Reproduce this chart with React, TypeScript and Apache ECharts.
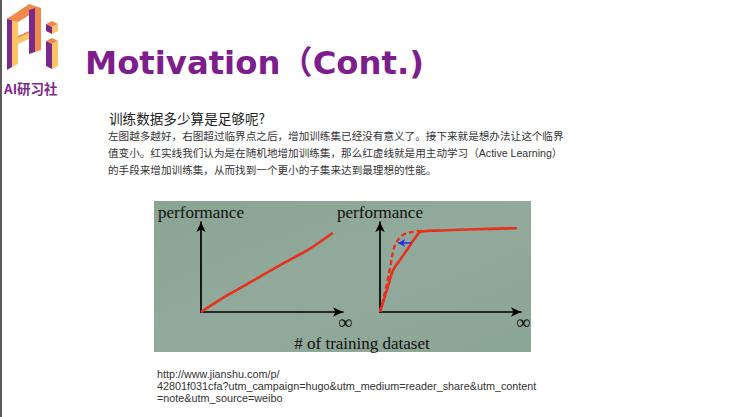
import React, { useEffect, useRef } from "react";
import * as echarts from "echarts";

// Left panel: performance grows steadily with dataset size
const leftX = [0, 1.92, 3.8, 5.92, 7.56, 9.27];
const leftY = [0, 1.92, 3.59, 5.52, 6.92, 8.78];

// Right panel: random sampling (solid) vs active learning (dashed)
const solidX = [0, 0.24, 0.59, 0.94, 1.42, 2.0, 2.48, 2.96, 4.37, 6.74, 9.7];
const solidY = [0, 1.17, 3.0, 4.68, 5.79, 7.09, 8.2, 8.94, 9.06, 9.2, 9.31];
const dashedX = [0, 0.16, 0.47, 0.71, 1.06, 1.64, 2.3, 3.0];
const dashedY = [0, 0.98, 3.0, 4.87, 7.42, 8.57, 8.9, 9.02];
const arrowX = [2.23, 1.29];
const arrowY = [7.68, 7.68];

const yAxisName = "performance";
const xAxisName = "∞";
const xTitle = "# of training dataset";

const slideTitle = "Motivation（Cont.)";
const logoText = "AI研习社";
const question = "训练数据多少算是足够呢?";
const bodyLines = [
  "左图越多越好，右图超过临界点之后，增加训练集已经没有意义了。接下来就是想办法让这个临界",
  "值变小。红实线我们认为是在随机地增加训练集，那么红虚线就是用主动学习（Active Learning）",
  "的手段来增加训练集，从而找到一个更小的子集来达到最理想的性能。",
];
const urlLines = [
  "http://www.jianshu.com/p/",
  "42801f031cfa?utm_campaign=hugo&utm_medium=reader_share&utm_content",
  "=note&utm_source=weibo",
];

const zip = (xs: number[], ys: number[]) => xs.map((x, i) => [x, ys[i]]);

const SERIF = "'Liberation Serif', 'DejaVu Serif', serif";
const CJK = "'Liberation Sans', Arial, 'Noto Sans CJK SC', sans-serif";
const RED = "#e5321c";

function axisPair(gridIndex: number) {
  const line = {
    show: true,
    symbol: ["none", "arrow"],
    symbolSize: [7, 10],
    lineStyle: { color: "#000", width: 1.7 },
  };
  return {
    x: {
      gridIndex,
      type: "value",
      min: 0,
      max: 10,
      axisLine: line,
      axisTick: { show: false },
      axisLabel: { show: false },
      splitLine: { show: false },
      name: xAxisName,
      nameLocation: "end",
      nameGap: 2,
      nameTextStyle: {
        fontFamily: SERIF,
        fontSize: 20,
        color: "#111",
        align: "center",
        verticalAlign: "top",
      },
    },
    y: {
      gridIndex,
      type: "value",
      min: 0,
      max: 10,
      axisLine: line,
      axisTick: { show: false },
      axisLabel: { show: false },
      splitLine: { show: false },
      name: yAxisName,
      nameLocation: "end",
      nameGap: 1,
      nameTextStyle: { fontFamily: SERIF, fontSize: 17, color: "#111" },
    },
  };
}

function logo() {
  const P = "#7b2a8c";
  const O = "#f2894c";
  const Y = "#fcc566";
  const poly = (points: number[][], fill: string) => ({
    type: "polygon",
    shape: { points },
    style: { fill },
  });
  return [
    // left column
    poly([[7, 19], [12, 16], [12, 67], [7, 70]], P),
    poly([[12, 16], [18, 14], [18, 64], [12, 67]], Y),
    // top bar
    poly([[7, 19], [29, 4], [41, 8], [18, 22]], O),
    // right column of A
    poly([[29, 10], [35, 8], [35, 52], [29, 54]], P),
    poly([[35, 8], [41, 8], [41, 50], [35, 52]], O),
    // crossbar
    poly([[18, 38], [29, 33], [29, 39], [18, 44]], Y),
    poly([[18, 36], [29, 31], [29, 33], [18, 38]], O),
    // i dot
    poly([[46, 24], [52, 21], [58, 24], [52, 27]], O),
    poly([[46, 24], [52, 27], [52, 34], [46, 31]], P),
    poly([[52, 27], [58, 24], [58, 31], [52, 34]], Y),
    // i stem
    poly([[46, 41], [52, 38], [58, 41], [52, 44]], O),
    poly([[46, 41], [52, 44], [52, 69], [46, 66]], P),
    poly([[52, 44], [58, 41], [58, 66], [52, 69]], Y),
  ];
}

export default function App() {
  const ref = useRef<HTMLDivElement>(null);
  useEffect(() => {
    if (!ref.current) return;
    const chart = echarts.init(ref.current, null, { renderer: "svg" });
    const a0 = axisPair(0);
    const a1 = axisPair(1);
    const text = (
      t: string,
      x: number,
      y: number,
      fontSize: number,
      fill: string,
      fontFamily: string,
      fontWeight: string | number = "normal",
      align = "left"
    ) => ({
      type: "text",
      x,
      y,
      style: {
        text: t,
        fill,
        fontSize,
        fontFamily,
        fontWeight,
        textAlign: align,
        textVerticalAlign: "middle",
      },
    });
    chart.setOption({
      animation: false,
      backgroundColor: "#ffffff",
      grid: [
        { left: 201, top: 222, width: 142, height: 90, outerBoundsMode: "none", containLabel: false },
        { left: 380, top: 222, width: 141, height: 90, outerBoundsMode: "none", containLabel: false },
      ],
      xAxis: [a0.x, a1.x],
      yAxis: [a0.y, a1.y],
      graphic: [
        { type: "rect", z: -10, shape: { x: 0, y: 0, width: 2, height: 417 }, style: { fill: "#5b5b5b" } },
        {
          type: "rect",
          z: -10,
          shape: { x: 154, y: 201, width: 377, height: 151 },
          style: {
            fill: {
              type: "linear",
              x: 0,
              y: 0,
              x2: 1,
              y2: 1,
              colorStops: [
                { offset: 0, color: "#8aa493" },
                { offset: 0.5, color: "#92aa9b" },
                { offset: 1, color: "#8ba594" },
              ],
            },
          },
        },
        ...logo(),
        text(logoText, 4, 88, 13.5, "#7b2a8c", "'Noto Sans CJK SC', sans-serif", "bold"),
        text(slideTitle, 85, 63, 32.3, "#7d1e8c", "'DejaVu Sans', 'Noto Sans CJK SC', sans-serif", "bold"),
        text(question, 109, 118, 13.6, "#222", "'Noto Sans CJK SC', sans-serif"),
        ...bodyLines.map((l, i) =>
          text(l, 108, 135.5 + i * 17.2, 10.6, "#333", CJK)
        ),
        text(xTitle, 362, 343, 17, "#111", SERIF, "normal", "center"),
        ...urlLines.map((l, i) =>
          text(l, 157, 374 + i * 11.8, 10.8, "#333", "'Liberation Sans', Arial, sans-serif")
        ),
      ],
      series: [
        {
          type: "line",
          xAxisIndex: 0,
          yAxisIndex: 0,
          data: zip(leftX, leftY),
          showSymbol: false,
          smooth: 0.2,
          lineStyle: { color: RED, width: 2.6 },
        },
        {
          type: "line",
          xAxisIndex: 1,
          yAxisIndex: 1,
          data: zip(dashedX, dashedY),
          showSymbol: false,
          smooth: 0.35,
          lineStyle: { color: RED, width: 2.4, type: [5, 3] },
        },
        {
          type: "line",
          xAxisIndex: 1,
          yAxisIndex: 1,
          data: zip(solidX, solidY),
          showSymbol: false,
          smooth: 0.4,
          lineStyle: { color: RED, width: 2.6 },
        },
        {
          type: "line",
          xAxisIndex: 1,
          yAxisIndex: 1,
          data: [
            { value: [arrowX[0], arrowY[0]], symbol: "none" },
            { value: [arrowX[1], arrowY[1]], symbol: "arrow", symbolRotate: 90, symbolSize: [6, 7] },
          ],
          showSymbol: true,
          showAllSymbol: true,
          itemStyle: { color: "#2b2be0" },
          lineStyle: { color: "#2b2be0", width: 1.5 },
          z: 5,
        },
      ],
    });
    return () => chart.dispose();
  }, []);
  return (
    <div
      ref={ref}
      style={{ position: "fixed", left: 0, top: 0, width: 740, height: 417 }}
    />
  );
}
